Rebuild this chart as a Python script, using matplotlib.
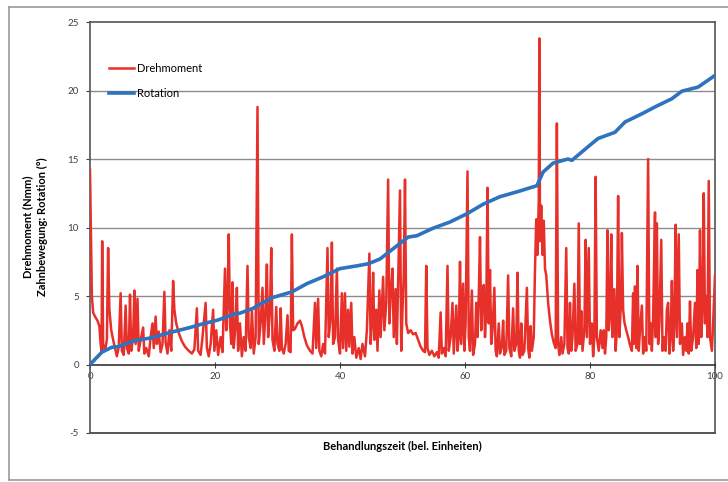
import matplotlib.pyplot as plt
from matplotlib.lines import Line2D

plt.rcParams['font.family'] = ['Lato', 'DejaVu Sans']
plt.rcParams['axes.unicode_minus'] = False

# Drehmoment (Nmm), Punkte (Zeit, Wert)
torque = [
    (0, 14.2), (0.3, 5), (0.5, 3.8), (0.8, 3.5), (1.2, 3.2), (1.5, 2.8), (1.7, 1.5), (1.85, 1.0),
    (1.95, 9.0), (2.1, 1.5), (2.4, 1.0), (2.7, 1.8), (2.9, 8.5), (3.1, 4.0), (3.4, 2.5), (3.7, 1.8),
    (4.0, 1.2), (4.3, 0.6), (4.6, 1.3), (4.9, 5.2), (5.1, 1.0), (5.4, 0.7), (5.7, 4.3), (5.9, 1.2),
    (6.2, 0.8), (6.4, 5.1), (6.6, 1.0), (6.9, 2.0), (7.1, 5.4), (7.3, 1.5), (7.6, 4.8), (7.8, 1.0),
    (8.1, 1.8), (8.5, 2.7), (8.7, 0.8), (9.0, 1.2), (9.4, 0.6), (9.7, 2.0), (10.0, 3.0), (10.2, 1.2),
    (10.5, 3.5), (10.7, 1.5), (11.0, 2.4), (11.3, 0.9), (11.6, 1.5), (11.9, 5.3), (12.1, 1.6), (12.4, 0.8),
    (12.7, 2.5), (13.0, 1.0), (13.3, 6.1), (13.5, 4.0), (13.8, 3.0), (14.2, 2.3), (14.7, 1.7), (15.2, 1.3),
    (15.8, 1.0), (16.3, 0.8), (16.7, 1.1), (17.1, 4.1), (17.3, 1.0), (17.7, 0.7), (18.0, 2.0), (18.5, 4.5),
    (18.7, 1.2), (19.0, 0.6), (19.3, 1.5), (19.7, 4.0), (19.9, 1.0), (20.2, 2.5), (20.5, 0.7), (20.9, 2.0),
    (21.2, 0.9), (21.6, 7.0), (21.8, 2.5), (22.0, 4.5), (22.2, 9.5), (22.4, 3.0), (22.6, 1.5), (22.8, 6.0),
    (23.0, 1.2), (23.3, 3.0), (23.5, 5.6), (23.7, 1.0), (24.0, 3.0), (24.3, 0.6), (24.6, 2.0), (24.9, 1.0),
    (25.2, 7.2), (25.4, 2.0), (25.7, 1.2), (25.9, 4.0), (26.2, 0.8), (26.5, 2.0), (26.8, 18.8), (27.0, 1.5),
    (27.3, 3.0), (27.6, 5.6), (27.8, 1.5), (28.1, 4.0), (28.3, 7.3), (28.5, 2.0), (28.8, 4.0), (29.0, 8.5),
    (29.2, 1.8), (29.5, 1.0), (29.8, 4.2), (30.0, 1.5), (30.3, 1.0), (30.5, 4.1), (30.7, 1.2), (31.0, 0.8),
    (31.3, 1.5), (31.6, 3.6), (31.8, 1.0), (32.1, 0.9), (32.3, 9.5), (32.5, 2.5), (32.8, 2.6), (33.2, 3.0),
    (33.6, 3.2), (33.9, 2.8), (34.3, 2.0), (34.7, 1.4), (35.2, 1.0), (35.6, 0.8), (36.0, 4.5), (36.2, 1.2),
    (36.5, 4.8), (36.7, 1.0), (37.0, 0.6), (37.3, 1.5), (37.6, 0.8), (38.0, 8.5), (38.2, 2.0), (38.5, 3.5),
    (38.7, 8.9), (38.9, 1.5), (39.2, 2.0), (39.5, 7.0), (39.7, 1.8), (40.0, 0.8), (40.3, 5.2), (40.5, 1.2),
    (40.8, 5.2), (41.0, 1.0), (41.3, 4.0), (41.5, 1.3), (41.8, 4.5), (42.0, 0.8), (42.3, 2.0), (42.6, 0.5),
    (43.0, 1.2), (43.3, 0.4), (43.6, 1.5), (44.0, 0.6), (44.3, 2.5), (44.7, 8.1), (44.9, 1.5), (45.1, 3.0),
    (45.3, 6.7), (45.5, 1.8), (45.8, 4.0), (46.0, 1.0), (46.3, 5.4), (46.5, 2.0), (46.9, 6.4), (47.1, 2.5),
    (47.4, 4.5), (47.7, 13.5), (47.9, 3.0), (48.1, 5.0), (48.4, 7.0), (48.6, 2.0), (48.9, 5.5), (49.1, 1.5),
    (49.3, 6.0), (49.6, 12.7), (49.8, 1.0), (50.0, 4.0), (50.2, 6.5), (50.4, 13.5), (50.6, 3.0), (50.9, 2.3),
    (51.3, 2.5), (51.7, 2.2), (52.1, 2.3), (52.5, 1.8), (52.9, 1.3), (53.3, 1.0), (53.6, 0.9), (53.8, 7.2),
    (54.0, 1.2), (54.3, 0.7), (54.7, 1.0), (55.1, 0.6), (55.5, 0.9), (55.8, 0.5), (56.1, 3.8), (56.3, 0.8),
    (56.6, 1.2), (56.9, 0.6), (57.2, 7.2), (57.4, 1.0), (57.7, 2.0), (58.0, 4.5), (58.2, 0.8), (58.6, 4.3),
    (58.8, 1.0), (59.0, 2.0), (59.2, 7.5), (59.4, 1.5), (59.7, 5.9), (59.9, 1.0), (60.1, 3.0), (60.4, 14.1),
    (60.6, 2.0), (60.8, 1.0), (61.1, 5.4), (61.3, 0.7), (61.6, 1.5), (61.8, 4.5), (62.0, 2.0), (62.2, 5.0),
    (62.4, 9.3), (62.6, 2.5), (62.8, 5.0), (63.0, 5.8), (63.2, 2.0), (63.4, 4.0), (63.6, 12.9), (63.8, 3.0),
    (64.0, 6.9), (64.2, 1.5), (64.4, 2.5), (64.7, 5.6), (64.9, 1.0), (65.1, 0.6), (65.4, 3.0), (65.6, 0.8),
    (65.9, 1.3), (66.1, 3.2), (66.3, 0.7), (66.6, 1.0), (66.9, 6.5), (67.1, 1.2), (67.4, 0.6), (67.7, 4.1),
    (67.9, 1.0), (68.2, 1.5), (68.4, 6.7), (68.6, 1.0), (68.8, 0.5), (69.0, 3.0), (69.2, 0.7), (69.5, 1.0),
    (69.9, 5.6), (70.1, 1.2), (70.3, 0.5), (70.5, 2.8), (70.7, 1.0), (71.0, 2.0), (71.2, 7.0), (71.4, 10.6),
    (71.6, 8.0), (71.8, 12.0), (71.9, 23.8), (72.0, 9.0), (72.2, 11.6), (72.4, 8.0), (72.6, 10.5), (72.8, 7.0),
    (73.0, 6.5), (73.3, 4.5), (73.6, 3.2), (73.9, 2.2), (74.2, 1.6), (74.5, 1.2), (74.7, 17.6), (74.9, 1.5),
    (75.1, 0.7), (75.4, 2.0), (75.6, 0.8), (75.9, 1.5), (76.2, 8.5), (76.4, 1.2), (76.6, 0.8), (76.8, 4.5),
    (77.0, 1.0), (77.2, 2.0), (77.5, 5.9), (77.7, 1.0), (78.0, 1.5), (78.2, 10.3), (78.4, 1.5), (78.6, 3.9),
    (78.8, 1.0), (79.1, 2.5), (79.3, 9.1), (79.5, 2.0), (79.8, 8.5), (80.0, 1.5), (80.3, 3.0), (80.5, 0.6),
    (80.7, 2.0), (80.9, 13.7), (81.1, 2.0), (81.4, 1.0), (81.7, 2.5), (82.0, 1.2), (82.2, 2.5), (82.4, 0.8),
    (82.6, 2.0), (82.8, 9.8), (83.0, 2.5), (83.2, 3.5), (83.4, 9.5), (83.6, 2.0), (83.9, 5.5), (84.1, 1.0),
    (84.3, 2.5), (84.5, 12.3), (84.7, 2.0), (85.0, 5.0), (85.1, 9.6), (85.3, 4.0), (85.5, 3.1), (85.8, 2.5),
    (86.1, 2.0), (86.4, 1.4), (86.7, 1.0), (86.9, 5.2), (87.0, 1.5), (87.2, 5.7), (87.4, 1.2), (87.6, 7.2),
    (87.8, 1.0), (88.0, 2.5), (88.3, 4.3), (88.5, 0.8), (88.8, 2.0), (89.0, 1.0), (89.3, 15.0), (89.5, 1.5),
    (89.7, 3.0), (89.9, 1.0), (90.1, 3.5), (90.4, 11.1), (90.5, 2.0), (90.7, 10.3), (90.9, 1.5), (91.1, 3.0),
    (91.4, 9.1), (91.6, 1.0), (91.8, 2.0), (92.1, 1.0), (92.3, 4.0), (92.5, 4.5), (92.7, 0.8), (92.9, 2.0),
    (93.1, 6.1), (93.3, 1.0), (93.5, 3.0), (93.7, 10.2), (93.9, 2.0), (94.2, 9.5), (94.4, 1.5), (94.7, 3.0),
    (94.9, 0.7), (95.2, 2.0), (95.4, 1.0), (95.6, 3.0), (95.8, 0.8), (96.0, 4.6), (96.2, 1.0), (96.5, 2.0),
    (96.8, 4.5), (97.0, 1.2), (97.2, 6.9), (97.4, 1.5), (97.6, 9.8), (97.8, 2.0), (98.0, 4.0), (98.2, 12.5),
    (98.4, 3.0), (98.6, 5.0), (98.8, 2.0), (99.0, 13.4), (99.2, 2.0), (99.5, 1.0), (99.7, 3.0), (100.0, 6.5),
]
torque_t = [p[0] for p in torque]
torque_v = [p[1] for p in torque]

# Zahnbewegung: Rotation (°)
rot_t = [0, 1.9, 3.5, 4.5, 7.2, 9.9, 12.5, 16.0, 17.9, 20.5, 23.2, 24.0, 26.1, 27.2, 29.3, 32.3,
         34.7, 37.3, 40.0, 42.7, 44.5, 46.4, 48.5, 50.9, 52.3, 54.9, 57.6, 60.3, 62.9, 65.6, 68.3,
         71.5, 72.5, 74.1, 76.5, 77.1, 79.7, 81.3, 84.0, 85.6, 88.3, 90.4, 93.1, 94.7, 97.3, 100.0]
rot_v = [0, 0.9, 1.26, 1.3, 1.75, 1.95, 2.3, 2.7, 2.95, 3.25, 3.7, 3.75, 4.1, 4.4, 4.9, 5.3,
         5.9, 6.4, 7.0, 7.2, 7.35, 7.7, 8.45, 9.3, 9.4, 9.95, 10.4, 11.0, 11.7, 12.25, 12.6,
         13.05, 14.05, 14.7, 15.0, 14.9, 15.9, 16.5, 16.95, 17.7, 18.3, 18.8, 19.4, 19.95, 20.25, 21.1]

fig = plt.figure(figsize=(7.28, 4.82), dpi=100)
ax = fig.add_axes([90 / 728, 1 - 433 / 482, 625 / 728, 411 / 482])

ax.set_xlim(0, 100)
ax.set_ylim(-5, 25)
ax.set_yticks([-5, 0, 5, 10, 15, 20, 25])
ax.set_xticks([0, 20, 40, 60, 80, 100])

for g in [5, 10, 15, 20]:
    ax.axhline(g, color='#8c8c8c', lw=1, zorder=1)

ax.plot(torque_t, torque_v, color='#e8302a', lw=1.8, label='Drehmoment', zorder=3)
ax.plot(rot_t, rot_v, color='#2f72be', lw=2.6, label='Rotation', zorder=4)

frame_c = '#555555'
for s in ['top', 'right', 'left']:
    ax.spines[s].set_color(frame_c)
    ax.spines[s].set_linewidth(1.2)
ax.spines['bottom'].set_position(('data', 0))
ax.spines['bottom'].set_color('#333333')
ax.spines['bottom'].set_linewidth(1.2)
ax.axhline(-5, color=frame_c, lw=1.4, clip_on=False, zorder=5)

ax.tick_params(axis='y', direction='out', length=3, labelsize=7, colors='#404040', pad=5)
ax.tick_params(axis='x', direction='inout', length=5, labelsize=7, colors='#404040', pad=3)

ax.set_xlabel('Behandlungszeit (bel. Einheiten)', fontsize=8, fontweight='bold')
ax.xaxis.set_label_coords(0.5, -0.02)
fig.text(28 / 728, 1 - 227 / 482, 'Drehmoment (Nmm)', rotation=90, ha='center', va='center',
         fontsize=8, fontweight='bold')
fig.text(42 / 728, 1 - 227 / 482, 'Zahnbewegung: Rotation (°)', rotation=90, ha='center', va='center',
         fontsize=8, fontweight='bold')

ax.legend(loc='upper left', bbox_to_anchor=(0.015, 0.925), frameon=False, fontsize=8,
          handlelength=2.2, handletextpad=0.3, labelspacing=1.3)

# äußerer Rahmen
border = '#9a9a9a'
fig.add_artist(Line2D([9 / 728, 9 / 728], [1 - 7 / 482, 1 - 480 / 482], color=border, lw=1.2))
fig.add_artist(Line2D([9 / 728, 1], [1 - 7 / 482, 1 - 7 / 482], color=border, lw=1.2))
fig.add_artist(Line2D([9 / 728, 1], [1 - 480 / 482, 1 - 480 / 482], color=border, lw=1.2))

fig.savefig('out.png', dpi=100)
